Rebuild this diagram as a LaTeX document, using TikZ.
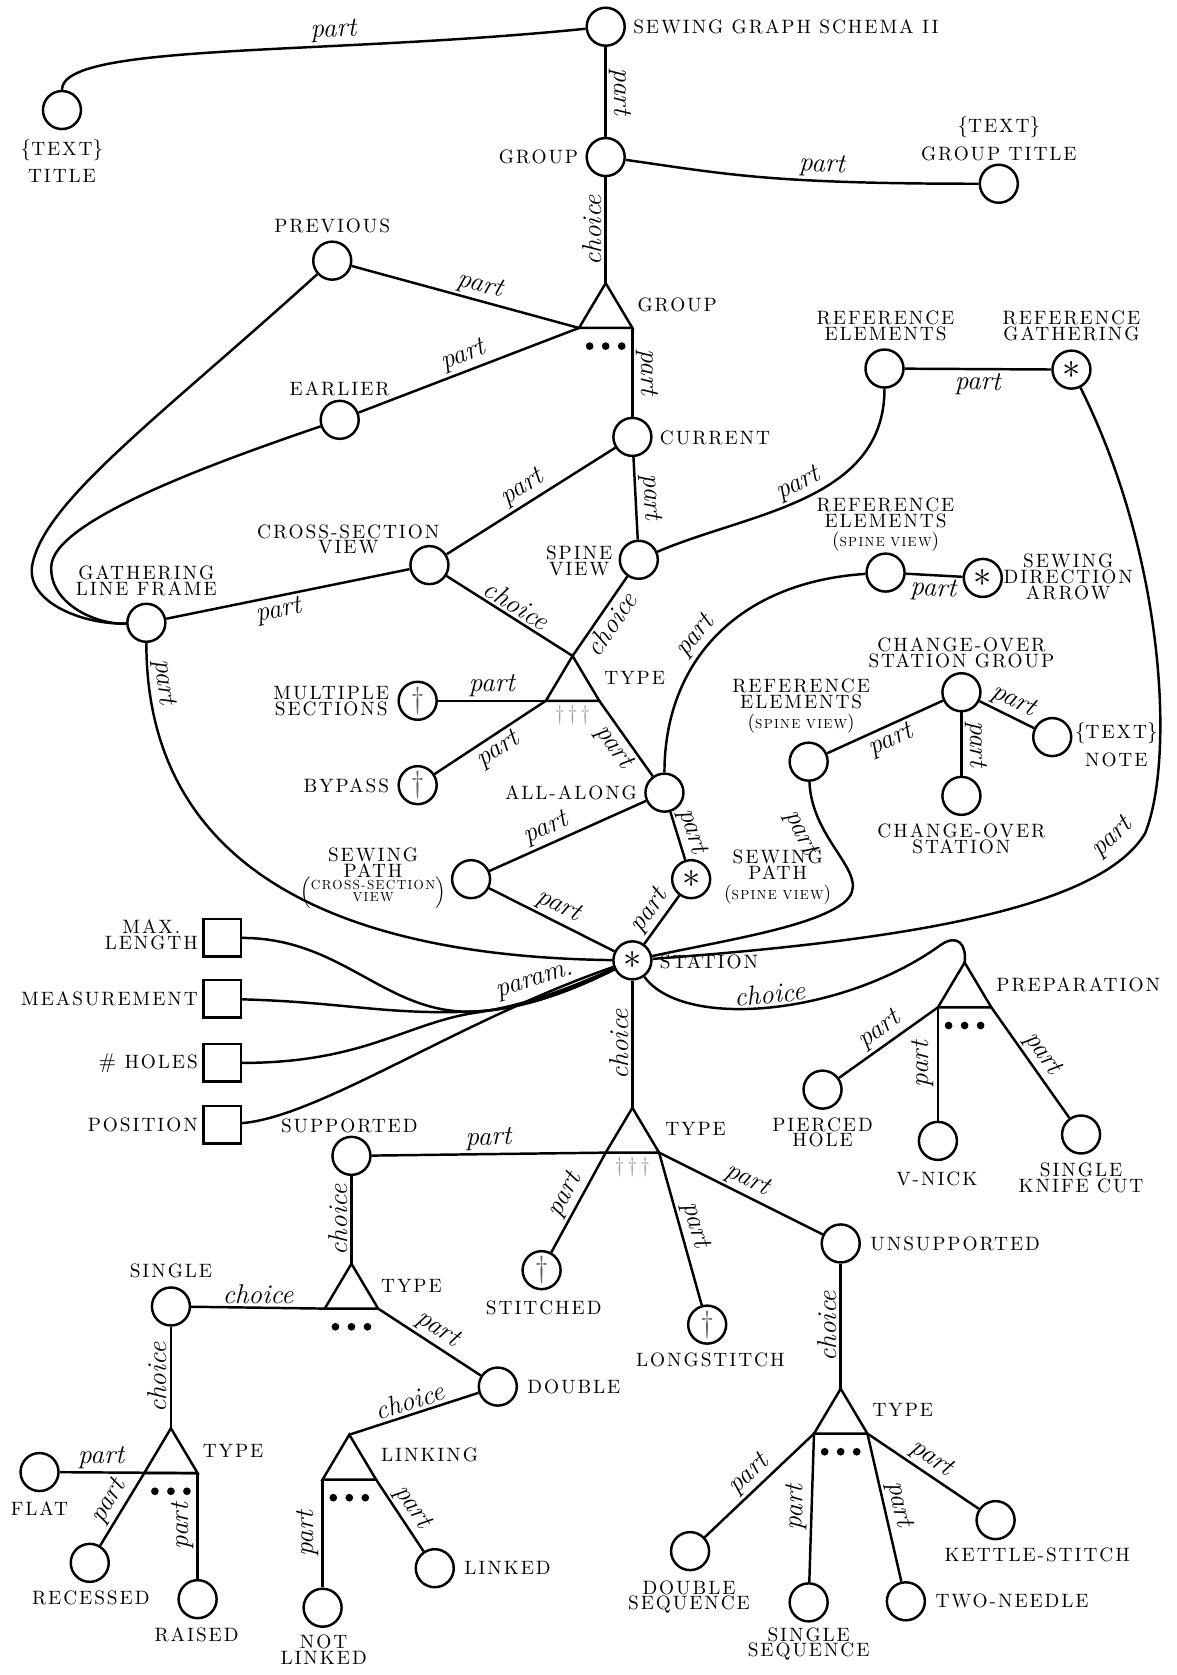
\documentclass[tikz,border=0pt]{standalone}
\usepackage{fontspec}
\usetikzlibrary{calc}
\newfontfamily\lblfam{lmroman10-regular.otf}[LetterSpace=10]
\newcommand\lblfont{\lblfam\fontsize{11}{9}\selectfont}
\newcommand\smalllbl{\fontsize{7.5}{7}\selectfont}
% triangle: name, apex x, apex y (y counted downwards)
\newcommand\typetri[3]{%
  \coordinate (#1) at (#2,-#3);
  \coordinate (#1-l) at ($(#1)+(-25,-42)$);
  \coordinate (#1-r) at ($(#1)+(25,-42)$);
  \draw (#1) -- (#1-l) -- (#1-r) -- cycle;}
\newcommand\dotmarks[1]{\foreach \dx in {-15,0,15} \fill ($(#1)+(\dx,-59)$) circle (3.6);}
\newcommand\dagmarks[1]{\foreach \dx in {-12,0,12} \node[text=gray!80, font=\large, inner sep=0pt] (#1-m\dx) at ($(#1)+(\dx,-56)$) {\dag};}

\begin{document}
\begin{tikzpicture}[x=0.02136cm, y=0.02136cm, line width=1.4pt,
    obj/.style={circle, draw, line width=1.4pt, minimum size=0.76cm, inner sep=0pt},
    starobj/.style={obj, font=\huge},
    dagobj/.style={obj, font=\LARGE, text=black!60},
    parambox/.style={draw, line width=1.4pt, minimum size=0.75cm, inner sep=0pt},
    lbl/.style={font=\lblfont, align=center, inner sep=1pt},
    rel/.style={font=\itshape\fontsize{15.5}{16}\selectfont, sloped, allow upside down, inner sep=1.5pt}]
\useasboundingbox (0,0) rectangle (1101,-1568);

% top: schema, group
\node[obj] (root) at (567,-25) {};
\node[lbl, anchor=west] (root-t) at (590,-25) {SEWING GRAPH SCHEMA II};
\node[obj] (title) at (58,-103) {};
\node[lbl] (title-t) at (58,-151) {{\large\{}TEXT{\large\}}\\[4pt]TITLE};
\node[obj] (group) at (567,-147) {};
\node[lbl, anchor=east] (group-t) at (544,-147) {GROUP};
\node[obj] (gtitle) at (935,-172) {};
\node[lbl] (gtitle-t) at (935,-130) {{\large\{}TEXT{\large\}}\\[4pt]GROUP TITLE};
\typetri{tg}{567}{265} \dotmarks{tg}
\node[lbl, anchor=west] (tg-t) at (594,-285) {GROUP};
\node[obj] (prev) at (311,-244) {};
\node[lbl] (prev-t) at (311,-211) {PREVIOUS};
\node[obj] (earlier) at (318,-393) {};
\node[lbl] (earlier-t) at (318,-364) {EARLIER};
\node[obj] (current) at (592,-409) {};
\node[lbl, anchor=west] (current-t) at (615,-410) {CURRENT};
\node[obj] (cross) at (402,-529) {};
\node[lbl] (cross-t) at (326,-505) {CROSS-SECTION\\VIEW};
\node[obj] (spine) at (598,-524) {};
\node[lbl, anchor=east] (spine-t) at (576,-525) {SPINE\\VIEW};
\node[obj] (glf) at (137,-583) {};
\node[lbl] (glf-t) at (137,-544) {GATHERING\\LINE FRAME};

% reference elements
\node[obj] (re1) at (828,-345) {};
\node[lbl] (re1-t) at (829,-305) {REFERENCE\\ELEMENTS};
\node[starobj] (rg) at (1003,-346) {$\ast$};
\node[lbl] (rg-t) at (1003,-305) {REFERENCE\\GATHERING};
\node[obj] (re2) at (829,-536) {};
\node[lbl] (re2-t) at (829,-491) {REFERENCE\\ELEMENTS\\[2pt]{(}{\smalllbl SPINE VIEW}{)}};
\node[starobj] (sda) at (920,-541) {$\ast$};
\node[lbl] (sda-t) at (1000,-540) {SEWING\\DIRECTION\\ARROW};

% type of frame
\typetri{tt1}{536}{614} \dagmarks{tt1}
\node[lbl, anchor=west] (tt1-t) at (563,-635) {TYPE};
\node[dagobj] (multi) at (391,-656) {\dag};
\node[lbl, anchor=east] (multi-t) at (367,-656) {MULTIPLE\\SECTIONS};
\node[dagobj] (bypass) at (391,-735) {\dag};
\node[lbl, anchor=east] (bypass-t) at (367,-736) {BYPASS};
\node[obj] (allalong) at (622,-742) {};
\node[lbl, anchor=east] (allalong-t) at (599,-742) {ALL-ALONG};
\node[obj] (swpcs) at (441,-823) {};
\node[lbl, anchor=east] (swpcs-t) at (420,-822) {SEWING\\PATH\\[-1pt]$\left(\def\arraystretch{0.8}\begin{tabular}{@{}c@{}}\smalllbl CROSS-SECTION\\\smalllbl VIEW\end{tabular}\right)$};
\node[starobj] (swpsv) at (647,-823) {$\ast$};
\node[lbl] (swpsv-t) at (728,-821) {SEWING\\PATH\\[2pt]{(}{\smalllbl SPINE VIEW}{)}};

% change-over
\node[obj] (cosg) at (900,-648) {};
\node[lbl] (cosg-t) at (900,-611) {CHANGE-OVER\\STATION GROUP};
\node[obj] (re3) at (757,-713) {};
\node[lbl] (re3-t) at (750,-661) {REFERENCE\\ELEMENTS\\[2pt]{(}{\smalllbl SPINE VIEW}{)}};
\node[obj] (cos) at (900,-745) {};
\node[lbl] (cos-t) at (900,-785) {CHANGE-OVER\\STATION};
\node[obj] (note) at (985,-690) {};
\node[lbl] (note-t) at (1045,-697) {{\large\{}TEXT{\large\}}\\[4pt]NOTE};

% station
\node[starobj] (S) at (592,-899) {$\ast$};
\node[lbl, anchor=west] (S-t) at (615,-900) {STATION};
\typetri{prep}{903}{901} \dotmarks{prep}
\node[lbl, anchor=west] (prep-t) at (930,-922) {PREPARATION};
\node[obj] (pierced) at (770,-1020) {};
\node[lbl] (pierced-t) at (770,-1060) {PIERCED\\HOLE};
\node[obj] (vnick) at (878,-1068) {};
\node[lbl] (vnick-t) at (877,-1104) {V-NICK};
\node[obj] (knife) at (1012,-1062) {};
\node[lbl] (knife-t) at (1012,-1103) {SINGLE\\KNIFE CUT};

% parameters
\node[parambox] (maxlen) at (208,-878) {};
\node[lbl, anchor=east] (maxlen-t) at (188,-875) {MAX.\\LENGTH};
\node[parambox] (meas) at (208,-935) {};
\node[lbl, anchor=east] (meas-t) at (188,-935) {MEASUREMENT};
\node[parambox] (holes) at (208,-995) {};
\node[lbl, anchor=east] (holes-t) at (188,-995) {{\large\#} HOLES};
\node[parambox] (pos) at (208,-1053) {};
\node[lbl, anchor=east] (pos-t) at (188,-1053) {POSITION};

% station type
\typetri{tt2}{592}{1037} \dagmarks{tt2}
\node[lbl, anchor=west] (tt2-t) at (620,-1057) {TYPE};
\node[obj] (supported) at (329,-1082) {};
\node[lbl] (supported-t) at (327,-1054) {SUPPORTED};
\node[dagobj] (stitched) at (507,-1189) {\dag};
\node[lbl] (stitched-t) at (509,-1224) {STITCHED};
\node[dagobj] (longstitch) at (662,-1240) {\dag};
\node[lbl] (longstitch-t) at (665,-1273) {LONGSTITCH};
\node[obj] (unsupported) at (787,-1164) {};
\node[lbl, anchor=west] (unsupported-t) at (812,-1164) {UNSUPPORTED};
\typetri{tt3}{329}{1183} \dotmarks{tt3}
\node[lbl, anchor=west] (tt3-t) at (354,-1204) {TYPE};
\node[obj] (single) at (160,-1223) {};
\node[lbl] (single-t) at (160,-1190) {SINGLE};
\node[obj] (double) at (466,-1298) {};
\node[lbl, anchor=west] (double-t) at (491,-1298) {DOUBLE};
\typetri{tt4}{160}{1337} \dotmarks{tt4}
\node[lbl, anchor=west] (tt4-t) at (187,-1358) {TYPE};
\node[obj] (flat) at (37,-1378) {};
\node[lbl] (flat-t) at (37,-1412) {FLAT};
\node[obj] (recessed) at (84,-1463) {};
\node[lbl] (recessed-t) at (85,-1496) {RECESSED};
\node[obj] (raised) at (185,-1497) {};
\node[lbl] (raised-t) at (184,-1530) {RAISED};
\typetri{link}{327}{1343} \dotmarks{link}
\node[lbl, anchor=west] (link-t) at (354,-1362) {LINKING};
\node[obj] (notlinked) at (302,-1505) {};
\node[lbl] (notlinked-t) at (303,-1544) {NOT\\LINKED};
\node[obj] (linked) at (407,-1468) {};
\node[lbl, anchor=west] (linked-t) at (432,-1468) {LINKED};
\typetri{tt5}{787}{1300} \dotmarks{tt5}
\node[lbl, anchor=west] (tt5-t) at (814,-1320) {TYPE};
\node[obj] (dseq) at (646,-1452) {};
\node[lbl] (dseq-t) at (645,-1495) {DOUBLE\\SEQUENCE};
\node[obj] (sseq) at (757,-1500) {};
\node[lbl] (sseq-t) at (757,-1539) {SINGLE\\SEQUENCE};
\node[obj] (twoneedle) at (848,-1499) {};
\node[lbl, anchor=west] (twoneedle-t) at (873,-1499) {TWO-NEEDLE};
\node[obj] (kettle) at (932,-1423) {};
\node[lbl] (kettle-t) at (971,-1456) {KETTLE-STITCH};

% connectors, top part
\draw (title) .. controls (58,-40) and (300,-52) .. (root) node[rel, pos=0.67, above] (e1) {part};
\draw (root) -- (group) node[rel, midway, above] (e2) {part};
\draw (group) .. controls (680,-163) and (720,-172) .. (gtitle) node[rel, pos=0.68, above] (e3) {part};
\draw (tg) -- (group) node[rel, midway, above] (e4) {choice};
\draw (prev) -- (tg-l) node[rel, pos=0.55, above] (e5) {part};
\draw (earlier) -- (tg-l) node[rel, midway, above] (e6) {part};
\draw (tg-r) -- (current) node[rel, midway, above] (e7) {part};
\draw (cross) -- (current) node[rel, midway, above] (e8) {part};
\draw (current) -- (spine) node[rel, midway, above] (e9) {part};
\draw (glf) -- (cross) node[rel, pos=0.45, below] (e10) {part};
\draw (prev) .. controls (150,-390) and (40,-470) .. (30,-530) .. controls (25,-565) and (80,-585) .. (glf);
\draw (earlier) .. controls (180,-440) and (50,-490) .. (48,-530) .. controls (46,-565) and (90,-585) .. (glf);
\draw (glf) .. controls (137,-790) and (280,-895) .. (S) node[rel, pos=0.07, above] (e11) {part};
\draw (multi) -- (tt1-l) node[rel, midway, above] (e12) {part};
\draw (bypass) -- (tt1-l) node[rel, midway, below] (e13) {part};
\draw (cross) -- (tt1) node[rel, midway, above] (e14) {choice};
\draw (tt1) -- (spine) node[rel, midway, below] (e15) {choice};
\draw (tt1-r) -- (allalong) node[rel, midway, below] (e16) {part};
\draw (swpcs) -- (allalong) node[rel, pos=0.4, above] (e17) {part};
\draw (swpcs) -- (S) node[rel, midway, above] (e18) {part};
\draw (allalong) -- (swpsv) node[rel, midway, above] (e19) {part};
\draw (S) -- (swpsv) node[rel, midway, above] (e20) {part};

% reference elements and change-over
\draw (allalong) .. controls (622,-620) and (690,-545) .. (re2) node[rel, pos=0.45, above] (e21) {part};
\draw (re2) -- (sda) node[rel, midway, below] (e22) {part};
\draw (re1) -- (rg) node[rel, midway, below] (e23) {part};
\draw (spine) .. controls (700,-480) and (828,-470) .. (re1) node[rel, pos=0.5, above] (e24) {part};
\draw (S) .. controls (850,-880) and (1030,-850) .. (1072,-780) node[rel, pos=0.9, above=4pt] (e25) {part}
  .. controls (1100,-710) and (1090,-520) .. (rg);
\draw (re3) .. controls (760,-790) and (820,-820) .. (790,-845) node[rel, pos=0.25, below=4pt] (e26) {part}
  .. controls (760,-868) and (680,-880) .. (S);
\draw (re3) -- (cosg) node[rel, midway, below] (e27) {part};
\draw (cosg) -- (cos) node[rel, midway, above] (e28) {part};
\draw (cosg) -- (note) node[rel, midway, above] (e29) {part};

% preparation
\draw (S) .. controls (640,-965) and (790,-950) .. (880,-885) node[rel, pos=0.5, above] (e30) {choice}
  .. controls (897,-873) and (905,-885) .. (prep);
\draw (pierced) -- (prep-l) node[rel, midway, above] (e31) {part};
\draw (vnick) -- (prep-l) node[rel, midway, above] (e32) {part};
\draw (prep-r) -- (knife) node[rel, midway, above] (e33) {part};

% parameters
\draw (maxlen) .. controls (320,-878) and (360,-948) .. (440,-947) .. controls (490,-946) and (540,-925) .. (S);
\draw (meas) .. controls (320,-938) and (360,-950) .. (440,-947) .. controls (490,-946) and (540,-925) .. (S) node[rel, pos=0.45, above=3pt] (e34) {param.};
\draw (holes) .. controls (340,-995) and (380,-958) .. (445,-948) .. controls (495,-941) and (540,-922) .. (S);
\draw (pos) .. controls (300,-1045) and (430,-955) .. (S);

% station type
\draw (tt2) -- (S) node[rel, midway, above] (e35) {choice};
\draw (supported) -- (tt2-l) node[rel, midway, above] (e36) {part};
\draw (stitched) -- (tt2-l) node[rel, midway, above] (e37) {part};
\draw (tt2-r) -- (longstitch) node[rel, midway, above] (e38) {part};
\draw (tt2-r) -- (unsupported) node[rel, midway, above] (e39) {part};
\draw (tt3) -- (supported) node[rel, midway, above] (e40) {choice};
\draw (single) -- (tt3-l) node[rel, midway, above] (e41) {choice};
\draw (tt3-r) -- (double) node[rel, midway, above] (e42) {part};
\draw (tt4) -- (single) node[rel, midway, above] (e43) {choice};
\draw (flat) -- (tt4-r) node[rel, pos=0.3, above] (e44) {part};
\draw (recessed) -- (tt4-l) node[rel, midway, above] (e45) {part};
\draw (raised) -- (tt4-r) node[rel, midway, above] (e46) {part};
\draw (link) -- (double) node[rel, midway, above] (e47) {choice};
\draw (notlinked) -- (link-l) node[rel, midway, above] (e48) {part};
\draw (link-r) -- (linked) node[rel, midway, above] (e49) {part};
\draw (tt5) -- (unsupported) node[rel, midway, above] (e50) {choice};
\draw (dseq) -- (tt5-l) node[rel, midway, above] (e51) {part};
\draw (sseq) -- (tt5-l) node[rel, midway, above] (e52) {part};
\draw (tt5-r) -- (twoneedle) node[rel, midway, above] (e53) {part};
\draw (tt5-r) -- (kettle) node[rel, midway, above] (e54) {part};
\end{tikzpicture}
\end{document}
